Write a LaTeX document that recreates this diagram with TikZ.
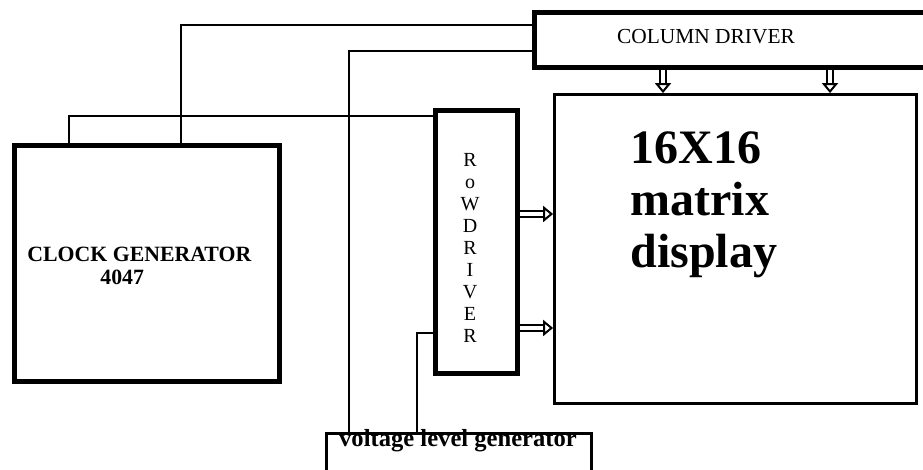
\documentclass[tikz,border=0pt]{standalone}
\usepackage{fontspec}
\setmainfont{Liberation Serif}
\usetikzlibrary{arrows.meta,calc}

\begin{document}
\begin{tikzpicture}[
    x=0.5pt, y=-0.5pt,
    thickbox/.style={rectangle, draw, line width=2.5pt, inner sep=0pt},
    thinbox/.style={rectangle, draw, line width=1.4pt, inner sep=0pt},
    wire/.style={line width=1.1pt},
    hollow/.style={double, double distance=2.4pt, line width=1pt, -{Triangle[open, length=5pt, width=8pt, line width=1pt]}},
]
\clip (0,0) rectangle (923,470);

% ====== Blocks ======
\node[thickbox, minimum width=132.5pt, minimum height=118pt] (clock) at (147,263.5) {};
\node[thickbox, minimum width=41pt, minimum height=131.5pt] (rowdrv) at (476.5,242) {};
\node[thickbox, minimum width=202.5pt, minimum height=27.5pt] (coldrv) at (737,40) {};
\node[thinbox, minimum width=181pt, minimum height=154.5pt] (matrix) at (735.5,249) {};
\node[thinbox, minimum width=132.5pt, minimum height=66.5pt] (vgen) at (459,500) {};

% ====== Texts ======
\node[anchor=base west, align=left, inner sep=0pt, font=\fontsize{10.9}{11.5}\selectfont\bfseries] (clocktxt) at (27,285)
{CLOCK GENERATOR\\\hspace*{36.5pt}4047};
\node[font=\fontsize{10}{11}\selectfont, align=center, inner sep=0pt] (rowtxt) at (470,248)
{R\\o\\W\\D\\R\\I\\V\\E\\R};
\node[font=\fontsize{10.7}{12}\selectfont, inner sep=0pt] (coltxt) at (706,37) {COLUMN DRIVER};
\node[anchor=base west, align=left, inner sep=0pt, font=\fontsize{24}{26}\selectfont\bfseries] (mattxt) at (630,268)
{16X16\\matrix\\display};
\node[anchor=base, inner sep=0pt, font=\fontsize{12.3}{13}\selectfont\bfseries] (vgentxt) at (458,447) {voltage level generator};

% ====== Wire tracks ======
\coordinate (t1) at (69,116);
\coordinate (t2) at (181,25);
\coordinate (t3) at (349,51);
\coordinate (t4) at (417,333);

\draw[wire] (clock.north -| t1) |- (rowdrv.west |- t1);
\draw[wire] (clock.north -| t2) |- (coldrv.west |- t2);
\draw[wire] (vgen.north -| t3) |- (coldrv.west |- t3);
\draw[wire] (vgen.north -| t4) |- (rowdrv.west |- t4);

% ====== Data arrows ======
\coordinate (r1) at (0,214);
\coordinate (r2) at (0,328);
\coordinate (c1) at (663,0);
\coordinate (c2) at (830,0);

\draw[hollow] (rowdrv.east |- r1) -- (matrix.west |- r1);
\draw[hollow] (rowdrv.east |- r2) -- (matrix.west |- r2);
\draw[hollow] (coldrv.south -| c1) -- (matrix.north -| c1);
\draw[hollow] (coldrv.south -| c2) -- (matrix.north -| c2);

\end{tikzpicture}
\end{document}
